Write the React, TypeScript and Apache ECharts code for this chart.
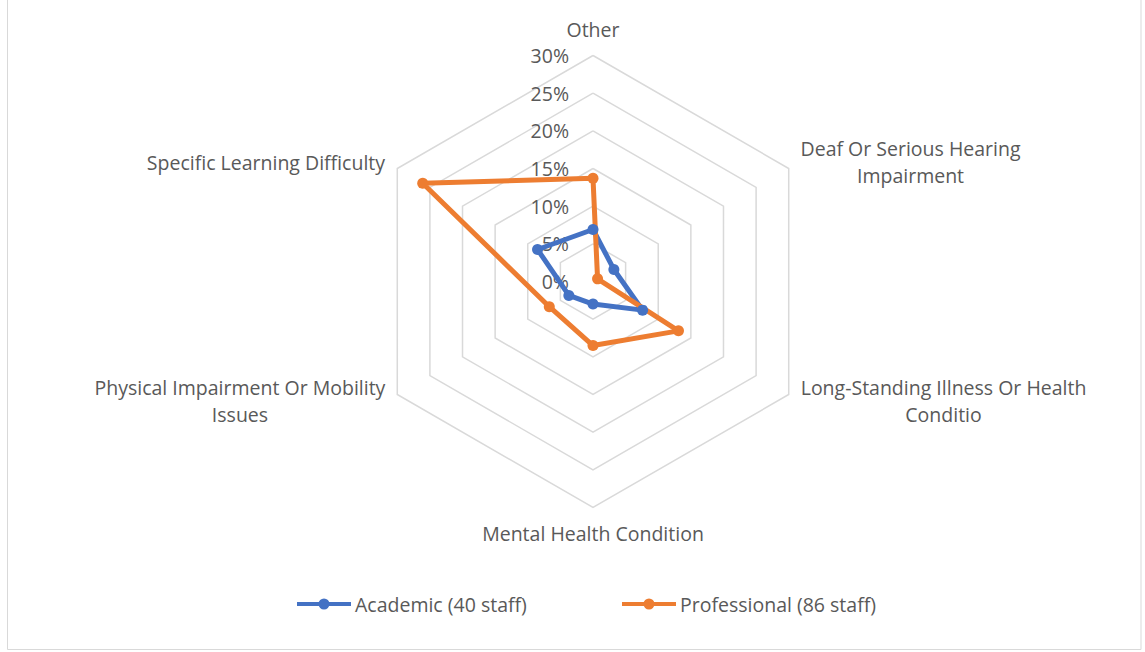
import React, { useEffect, useRef } from 'react';
import * as echarts from 'echarts';

// Categories in clockwise order starting from the top
const categories = [
  'Other',
  'Deaf Or Serious Hearing Impairment',
  'Long-Standing Illness Or Health Conditio',
  'Mental Health Condition',
  'Physical Impairment Or Mobility Issues',
  'Specific Learning Difficulty',
];
const academic = [6.9, 3.2, 7.6, 3.0, 3.7, 8.5];
const professional = [13.7, 0.7, 13.1, 8.5, 6.7, 26.1];
const seriesNames = ['Academic (40 staff)', 'Professional (86 staff)'];
const seriesColors = ['#4472C4', '#ED7D31'];
const radialTicks = [0, 5, 10, 15, 20, 25, 30];

const FONT_NAME = 'Open Sans';
const FONT = '"Open Sans", sans-serif';
const FS = 19.5;
const TEXT = '#595959';

function measure(t: string): number {
  const ctx = document.createElement('canvas').getContext('2d')!;
  ctx.font = `${FS}px "${FONT_NAME}"`;
  return ctx.measureText(t).width;
}

function wrap(t: string, max: number): string[] {
  const words = t.split(' ');
  const lines: string[] = [];
  let cur = '';
  for (const w of words) {
    const test = cur ? cur + ' ' + w : w;
    if (cur && measure(test) > max) {
      lines.push(cur);
      cur = w;
    } else cur = test;
  }
  if (cur) lines.push(cur);
  return lines;
}

export default function App() {
  const ref = useRef<HTMLDivElement>(null);
  useEffect(() => {
    const chart = echarts.init(ref.current!, null, { renderer: 'svg' });
    // ECharts radar runs counter-clockwise; reorder so the picture reads clockwise
    const order = [0, 5, 4, 3, 2, 1];
    const rich: Record<string, any> = {};
    const wrapped = categories.map((c, i) => {
      const lines = wrap(c, (305 * FS) / 18);
      const w = Math.max(...lines.map(measure));
      rich['n' + i] = {
        width: Math.ceil(w) + 2,
        align: 'center',
        fontSize: FS,
        fontFamily: FONT,
        color: TEXT,
        lineHeight: 27,
      };
      return lines;
    });

    const tickMin = radialTicks[0];
    const tickMax = radialTicks[radialTicks.length - 1];
    const tickStep = radialTicks[1] - radialTicks[0];

    const legendLeft = 292;
    const iconW = 54;
    const gap = 618 - (legendLeft + iconW + 5 + measure(seriesNames[0]));

    const option: any = {
      animation: false,
      backgroundColor: '#ffffff',
      graphic: [
        {
          type: 'rect',
          shape: { x: 7.5, y: -2, width: 1133.5, height: 651.5 },
          style: { fill: 'none', stroke: '#D9D9D9', lineWidth: 1 },
          silent: true,
        },
      ],
      legend: {
        left: legendLeft,
        top: 589,
        itemWidth: iconW,
        itemHeight: 11,
        itemGap: gap,
        icon: 'path://M0,4H54V8H0Z M21.5,6A5.5,5.5,0,1,1,32.5,6A5.5,5.5,0,1,1,21.5,6Z',
        textStyle: { color: TEXT, fontSize: FS, fontFamily: FONT, padding: [0, 0, 0, -1] },
        itemStyle: { borderWidth: 0 },
        data: seriesNames,
      },
      grid: { left: 593, top: 55.5, width: 1, height: 226 },
      xAxis: { type: 'value', show: false },
      yAxis: {
        type: 'value',
        min: tickMin,
        max: tickMax,
        interval: tickStep,
        axisLine: { show: false },
        axisTick: { show: false },
        splitLine: { show: false },
        axisLabel: {
          formatter: '{value}%',
          margin: 24,
          color: TEXT,
          fontSize: FS,
          fontFamily: FONT,
          padding: [4, 0, 0, 0],
        },
      },
      radar: {
        center: [593, 281.5],
        radius: 226,
        startAngle: 90,
        splitNumber: 6,
        shape: 'polygon',
        nameGap: 12.5,
        axisName: {
          color: TEXT,
          fontSize: FS,
          fontFamily: FONT,
          lineHeight: 27,
          rich,
          formatter: (name: string) => {
            const i = categories.indexOf(name);
            return wrapped[i].map((l) => `{n${i}|${l}}`).join('\n');
          },
        },
        axisLine: { show: false },
        axisTick: { show: false },
        axisLabel: { show: false },
        splitLine: { lineStyle: { color: '#D9D9D9', width: 1.5 } },
        splitArea: { show: false },
        indicator: order.map((i) => ({ name: categories[i], min: tickMin, max: tickMax })),
      },
      series: [
        {
          type: 'radar',
          symbol: 'circle',
          symbolSize: 11,
          lineStyle: { width: 5 },
          data: [academic, professional].map((vals, k) => ({
            name: seriesNames[k],
            value: order.map((i) => vals[i]),
            lineStyle: { color: seriesColors[k], width: 5 },
            itemStyle: { color: seriesColors[k], borderWidth: 0 },
          })),
        },
      ],
    };
    chart.setOption(option);
    return () => chart.dispose();
  }, []);
  return (
    <div
      ref={ref}
      style={{ position: 'fixed', left: 0, top: 0, width: 1145, height: 652, background: '#fff' }}
    />
  );
}
